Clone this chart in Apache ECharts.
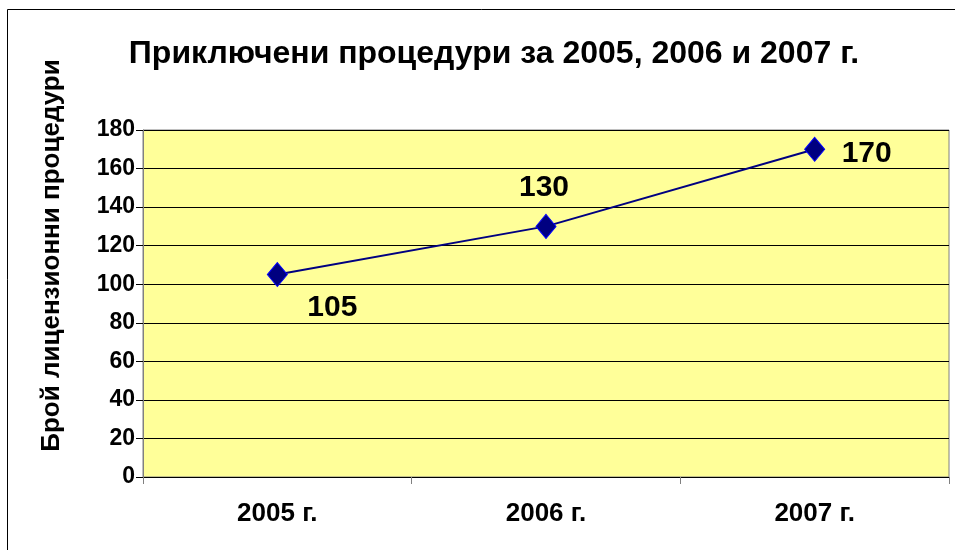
<!DOCTYPE html>
<html>
<head>
<meta charset="utf-8">
<script src="https://cdn.jsdelivr.net/npm/echarts@6/dist/echarts.min.js"></script>
<style>
html,body{margin:0;padding:0;background:#fff;}
#chart{width:955px;height:550px;}
</style>
</head>
<body>
<div id="chart"></div>
<script>
const categories = ['2005 г.', '2006 г.', '2007 г.'];
const values = [105, 130, 170];
const titleText = 'Приключени процедури за 2005, 2006 и 2007 г.';
const yAxisName = 'Брой лицензионни процедури';

const labelOffsets = [[55, 33], [-2, -39], [52, 4]];
const font = 'Arial, "Liberation Sans", sans-serif';

const chart = echarts.init(document.getElementById('chart'), null, {renderer: 'canvas'});
chart.setOption({
  animation: false,
  backgroundColor: '#ffffff',
  title: {
    text: titleText,
    left: 489, top: 33, textAlign: 'center',
    textStyle: {fontFamily: font, fontWeight: 'bold', fontSize: 32, color: '#000'}
  },
  graphic: [
    {type: 'line', shape: {x1: 7.5, y1: 9.5, x2: 7.5, y2: 550}, style: {stroke: '#000', lineWidth: 1}},
    {type: 'line', shape: {x1: 7.5, y1: 9.5, x2: 955, y2: 9.5}, style: {stroke: '#000', lineWidth: 1}}
  ],
  grid: {
    left: 143, top: 130, right: 6, bottom: 73,
    show: true, backgroundColor: '#ffff99', borderColor: '#808080', borderWidth: 1
  },
  xAxis: {
    type: 'category',
    data: categories,
    boundaryGap: true,
    axisLine: {lineStyle: {color: '#000', width: 1}},
    axisTick: {show: true, length: 7, lineStyle: {color: '#808080'}},
    axisLabel: {margin: 24, fontFamily: font, fontWeight: 'bold', fontSize: 26, color: '#000'}
  },
  yAxis: {
    type: 'value',
    min: 0, max: 180, interval: 20,
    name: yAxisName,
    nameLocation: 'middle',
    nameGap: 78,
    nameTextStyle: {fontFamily: font, fontWeight: 'bold', fontSize: 26, color: '#000', padding: [0, 0, 0, 96]},
    axisLine: {show: true, lineStyle: {color: '#808080'}},
    axisTick: {show: true, length: 7, lineStyle: {color: '#000'}},
    axisLabel: {margin: 8, fontFamily: font, fontWeight: 'bold', fontSize: 23, color: '#000'},
    splitLine: {show: true, lineStyle: {color: '#000', width: 1}}
  },
  series: [{
    type: 'line',
    data: values.map((v, i) => ({
      value: v,
      label: {offset: labelOffsets[i]}
    })),
    symbol: 'diamond',
    symbolSize: [20, 24],
    itemStyle: {color: '#000080', borderColor: '#0000ff', borderWidth: 1},
    lineStyle: {color: '#000080', width: 2},
    label: {
      show: true, position: 'inside',
      fontFamily: font, fontWeight: 'bold', fontSize: 30, color: '#000'
    }
  }]
});
</script>
</body>
</html>
